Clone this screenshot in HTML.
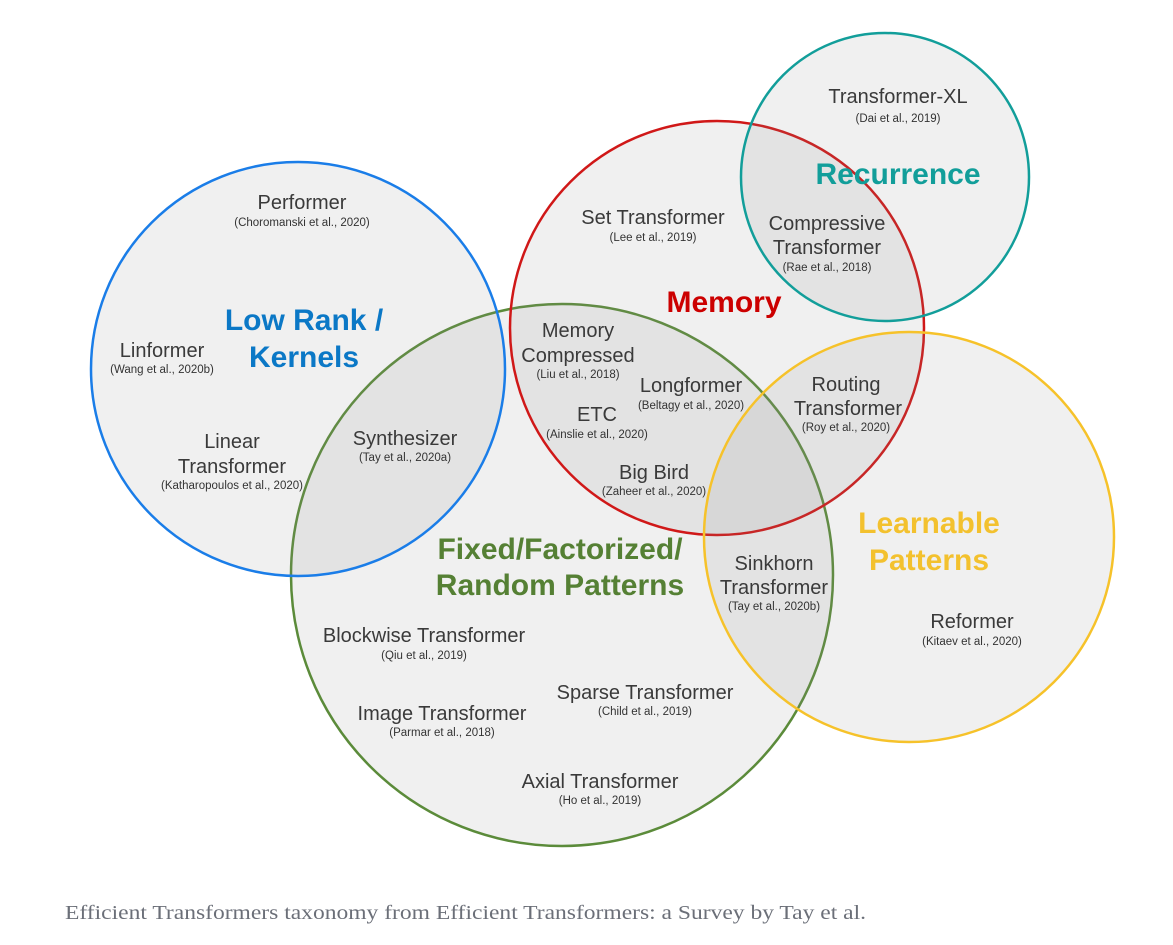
<!DOCTYPE html>
<html><head><meta charset="utf-8"><style>
html,body{margin:0;padding:0;background:#fff;}
svg{display:block;}
.t{font-family:"Liberation Sans",sans-serif;fill:#3a3a3a;text-anchor:middle;font-size:20px;}
.s{font-family:"Liberation Sans",sans-serif;fill:#333;text-anchor:middle;font-size:11.5px;}
.h{font-family:"Liberation Sans",sans-serif;text-anchor:middle;font-size:30px;font-weight:bold;}
</style></head><body>
<svg width="1173" height="945" viewBox="0 0 1173 945" xmlns="http://www.w3.org/2000/svg">
<rect width="1173" height="945" fill="#fff"/>
<g fill="#888" fill-opacity="0.13" stroke-width="2.5">
<circle cx="562" cy="575" r="271" stroke="#5b8b3a"/>
<circle cx="717" cy="328" r="207" stroke="#d01818"/>
<circle cx="885" cy="177" r="144" stroke="#129e9a"/>
<circle cx="298" cy="369" r="207" stroke="#1a7de8"/>
<circle cx="909" cy="537" r="205" stroke="#f6c22a"/>
</g>
<text class="h" x="304" y="330" fill="#0b78c6">Low Rank /</text>
<text class="h" x="304" y="367" fill="#0b78c6">Kernels</text>
<text class="h" x="724" y="312" fill="#cc0000">Memory</text>
<text class="h" x="898" y="184" fill="#129e9a">Recurrence</text>
<text class="h" x="929" y="533" fill="#f3c12e">Learnable</text>
<text class="h" x="929" y="570" fill="#f3c12e">Patterns</text>
<text class="h" x="560" y="559" fill="#558034">Fixed/Factorized/</text>
<text class="h" x="560" y="595" fill="#558034">Random Patterns</text>

<text class="t" x="302" y="209">Performer</text><text class="s" x="302" y="226">(Choromanski et al., 2020)</text>
<text class="t" x="162" y="357">Linformer</text><text class="s" x="162" y="373">(Wang et al., 2020b)</text>
<text class="t" x="232" y="448">Linear</text><text class="t" x="232" y="473">Transformer</text><text class="s" x="232" y="489">(Katharopoulos et al., 2020)</text>
<text class="t" x="405" y="445">Synthesizer</text><text class="s" x="405" y="461">(Tay et al., 2020a)</text>
<text class="t" x="653" y="224">Set Transformer</text><text class="s" x="653" y="241">(Lee et al., 2019)</text>
<text class="t" x="898" y="103">Transformer-XL</text><text class="s" x="898" y="122">(Dai et al., 2019)</text>
<text class="t" x="827" y="230">Compressive</text><text class="t" x="827" y="254">Transformer</text><text class="s" x="827" y="271">(Rae et al., 2018)</text>
<text class="t" x="578" y="337">Memory</text><text class="t" x="578" y="362">Compressed</text><text class="s" x="578" y="378">(Liu et al., 2018)</text>
<text class="t" x="691" y="392">Longformer</text><text class="s" x="691" y="409">(Beltagy et al., 2020)</text>
<text class="t" x="597" y="421">ETC</text><text class="s" x="597" y="438">(Ainslie et al., 2020)</text>
<text class="t" x="654" y="479">Big Bird</text><text class="s" x="654" y="495">(Zaheer et al., 2020)</text>
<text class="t" x="846" y="391">Routing</text><text class="t" x="848" y="415">Transformer</text><text class="s" x="846" y="431">(Roy et al., 2020)</text>
<text class="t" x="774" y="570">Sinkhorn</text><text class="t" x="774" y="594">Transformer</text><text class="s" x="774" y="610">(Tay et al., 2020b)</text>
<text class="t" x="972" y="628">Reformer</text><text class="s" x="972" y="645">(Kitaev et al., 2020)</text>
<text class="t" x="424" y="642">Blockwise Transformer</text><text class="s" x="424" y="659">(Qiu et al., 2019)</text>
<text class="t" x="645" y="699">Sparse Transformer</text><text class="s" x="645" y="715">(Child et al., 2019)</text>
<text class="t" x="442" y="720">Image Transformer</text><text class="s" x="442" y="736">(Parmar et al., 2018)</text>
<text class="t" x="600" y="788">Axial Transformer</text><text class="s" x="600" y="804">(Ho et al., 2019)</text>

<text x="65" y="919" font-family="'Liberation Serif',serif" font-size="20" fill="#6b6f78" textLength="801" lengthAdjust="spacingAndGlyphs">Efficient Transformers taxonomy from Efficient Transformers: a Survey by Tay et al.</text>
</svg>
</body></html>
